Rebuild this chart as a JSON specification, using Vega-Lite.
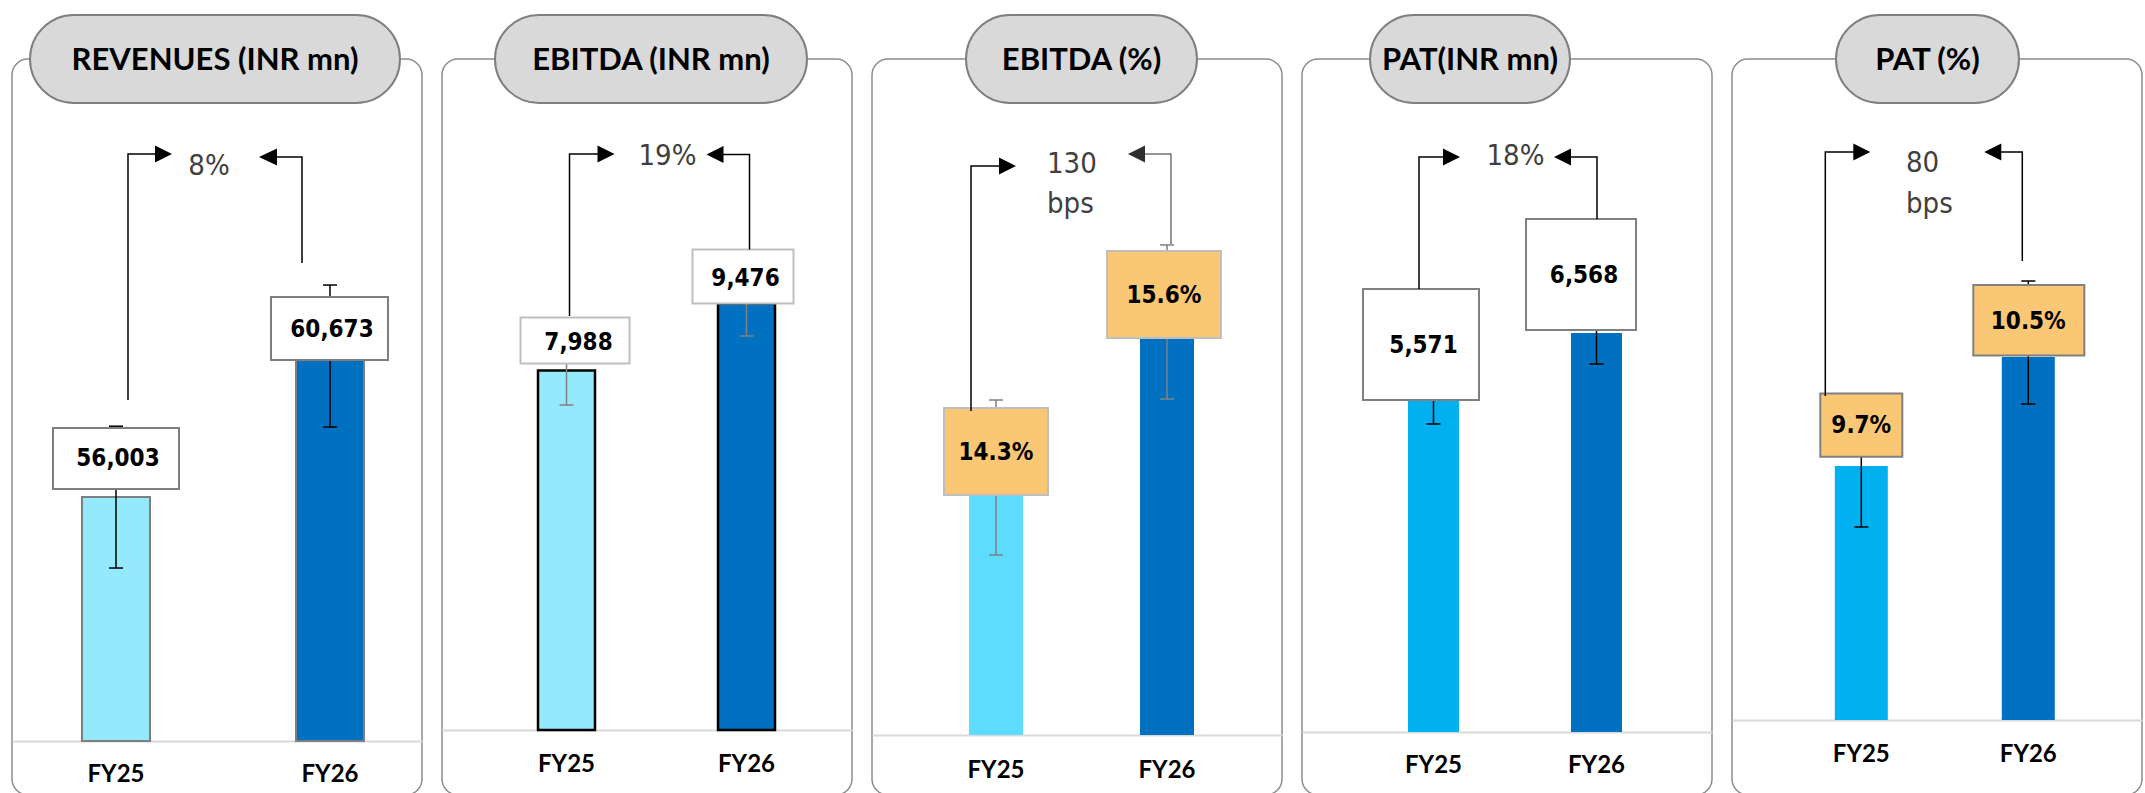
{
 "$schema": "https://vega.github.io/schema/vega-lite/v6.json",
 "padding": {"left": 11, "top": 10, "right": 0, "bottom": 0},
 "spacing": 18,
 "background": "#FFFFFF",
 "resolve": {"scale": {"color": "independent"}, "legend": {"color": "independent"}},
 "config": {
  "view": {"stroke": "#8C8C8C", "strokeWidth": 1.5, "cornerRadius": 16},
  "axisX": {"domainColor": "#D9D9D9", "domainWidth": 2, "ticks": false, "tickSize": 0, "labelFont": "Lato", "labelFontWeight": "bold", "labelFontSize": 24, "labelColor": "#000000", "labelBaseline": "middle", "labelAngle": 0, "grid": false}
 },
 "hconcat": [
  {
   "width": 410, "height": 736,
   "data": {"values": [
    {"year": "FY25", "value": 56003, "label": "56,003", "err_low": 53600, "err_high": 58400, "growth": "8%"},
    {"year": "FY26", "value": 60673, "label": "60,673", "err_low": 58372, "err_high": 63177, "growth": "8%"}
   ]},
   "encoding": {"y": {"field": "value", "type": "quantitative", "scale": {"domain": [45919, 70826], "nice": false, "zero": false}, "axis": null}},
   "layer": [
    {"mark": {"type": "bar", "width": 68, "stroke": "#7F7F7F", "strokeWidth": 2},
     "encoding": {
      "x": {"field": "year", "type": "nominal", "title": null, "scale": {"paddingInner": 0.5, "paddingOuter": 0.20794, "align": 0.5674}, "axis": {"offset": -54, "labelPadding": 33}},
      "y2": {"datum": 47746},
      "color": {"field": "year", "type": "nominal", "scale": {"range": ["#95E9FD", "#0070C0"]}, "legend": null}}},
    {"mark": {"type": "rule", "color": "#000000", "strokeWidth": 1.5},
     "encoding": {"x": {"field": "year", "type": "nominal", "title": null}, "y": {"field": "err_low", "type": "quantitative", "axis": null}, "y2": {"field": "err_high"}}},
    {"mark": {"type": "point", "shape": "M-1,0H1", "size": 196, "filled": false, "stroke": "#000000", "strokeWidth": 1.5, "opacity": 1},
     "encoding": {"x": {"field": "year", "type": "nominal", "title": null}, "y": {"field": "err_low", "type": "quantitative", "axis": null}}},
    {"mark": {"type": "point", "shape": "M-1,0H1", "size": 196, "filled": false, "stroke": "#000000", "strokeWidth": 1.5, "opacity": 1},
     "encoding": {"x": {"field": "year", "type": "nominal", "title": null}, "y": {"field": "err_high", "type": "quantitative", "axis": null}}},
    {"transform": [{"filter": "datum.year == 'FY25'"}],
     "mark": {"type": "point", "shape": "M-0.63,-0.69H0.63V-0.08H-0.63Z", "size": 40000, "filled": true, "fill": "#FFFFFF", "stroke": "#7F7F7F", "strokeWidth": 2, "opacity": 1},
     "encoding": {"x": {"field": "year", "type": "nominal", "title": null}}},
    {"transform": [{"filter": "datum.year == 'FY26'"}],
     "mark": {"type": "point", "shape": "M-0.59,-0.62H0.58V0.01H-0.59Z", "size": 40000, "filled": true, "fill": "#FFFFFF", "stroke": "#7F7F7F", "strokeWidth": 2, "opacity": 1},
     "encoding": {"x": {"field": "year", "type": "nominal", "title": null}}},
    {"transform": [{"filter": "datum.year == 'FY25'"}],
     "mark": {"type": "point", "shape": "M0.1125,-0.97L0.1125,-3.4375L0.39,-3.4375L0.39,-3.515L0.56,-3.43L0.39,-3.345L0.39,-3.4225L0.1275,-3.4225L0.1275,-0.97Z", "size": 40000, "filled": true, "fill": "#000000", "strokeWidth": 0, "opacity": 1},
     "encoding": {"x": {"field": "year", "type": "nominal", "title": null}}},
    {"transform": [{"filter": "datum.year == 'FY26'"}],
     "mark": {"type": "point", "shape": "M-0.2725,-0.96L-0.2725,-2.0275L-0.53,-2.0275L-0.53,-2.105L-0.71,-2.02L-0.53,-1.935L-0.53,-2.0125L-0.2875,-2.0125L-0.2875,-0.96Z", "size": 40000, "filled": true, "fill": "#000000", "strokeWidth": 0, "opacity": 1},
     "encoding": {"x": {"field": "year", "type": "nominal", "title": null}}},
    {"transform": [{"filter": "datum.year == 'FY25'"}],
     "mark": {"type": "text", "font": "DejaVu Sans Condensed, DejaVu Sans", "fontWeight": "bold", "fontSize": 24, "color": "#000000", "dx": 2, "dy": -38, "baseline": "middle"},
     "encoding": {"x": {"field": "year", "type": "nominal", "title": null}, "text": {"field": "label"}}},
    {"transform": [{"filter": "datum.year == 'FY26'"}],
     "mark": {"type": "text", "font": "DejaVu Sans Condensed, DejaVu Sans", "fontWeight": "bold", "fontSize": 24, "color": "#000000", "dx": 2, "dy": -29, "baseline": "middle"},
     "encoding": {"x": {"field": "year", "type": "nominal", "title": null}, "text": {"field": "label"}}},
    {"transform": [{"filter": "datum.year == 'FY26'"}],
     "mark": {"type": "text", "font": "DejaVu Sans Condensed, DejaVu Sans", "fontSize": 29, "color": "#404040", "dx": -8, "baseline": "middle", "align": "center"},
     "encoding": {"y": {"datum": 67205, "axis": null}, "text": {"field": "growth"}}},
    {"transform": [{"filter": "datum.year == 'FY25'"}],
     "mark": {"type": "point", "shape": "M-1.41,-0.44H1.41A0.44,0.44 0 0 1 1.41,0.44H-1.41A0.44,0.44 0 0 1 -1.41,-0.44Z", "size": 40000, "filled": true, "fill": "#D9D9D9", "stroke": "#7F7F7F", "strokeWidth": 2, "opacity": 1, "xOffset": -2},
     "encoding": {"y": {"datum": 70826, "axis": null}}},
    {"transform": [{"filter": "datum.year == 'FY25'"}],
     "mark": {"type": "text", "text": "REVENUES (INR mn)", "font": "Lato", "fontWeight": "bold", "fontSize": 31, "color": "#000000", "dx": -2, "dy": 2, "baseline": "middle", "align": "center"},
     "encoding": {"y": {"datum": 70826, "axis": null}}}
   ]
  },
  {
   "width": 410, "height": 736,
   "data": {"values": [
    {"year": "FY25", "value": 7988, "label": "7,988", "err_low": 7222, "err_high": 8733, "growth": "19%"},
    {"year": "FY26", "value": 9476, "label": "9,476", "err_low": 8756, "err_high": 10222, "growth": "19%"}
   ]},
   "encoding": {"y": {"field": "value", "type": "quantitative", "scale": {"domain": [-1444, 14911], "nice": false, "zero": false}, "axis": null}},
   "layer": [
    {"mark": {"type": "bar", "width": 57, "stroke": "#000000", "strokeWidth": 2.5},
     "encoding": {
      "x": {"field": "year", "type": "nominal", "title": null, "scale": {"paddingInner": 0.5, "paddingOuter": 0.38889, "align": 0.5679}, "axis": {"offset": -65, "labelPadding": 34}},
      "y2": {"datum": 0},
      "color": {"field": "year", "type": "nominal", "scale": {"range": ["#95E9FD", "#0070C0"]}, "legend": null}}},
    {"mark": {"type": "rule", "color": "#808080", "strokeWidth": 1.5},
     "encoding": {"x": {"field": "year", "type": "nominal", "title": null}, "y": {"field": "err_low", "type": "quantitative", "axis": null}, "y2": {"field": "err_high"}}},
    {"mark": {"type": "point", "shape": "M-1,0H1", "size": 196, "filled": false, "stroke": "#808080", "strokeWidth": 1.5, "opacity": 1},
     "encoding": {"x": {"field": "year", "type": "nominal", "title": null}, "y": {"field": "err_low", "type": "quantitative", "axis": null}}},
    {"mark": {"type": "point", "shape": "M-1,0H1", "size": 196, "filled": false, "stroke": "#808080", "strokeWidth": 1.5, "opacity": 1},
     "encoding": {"x": {"field": "year", "type": "nominal", "title": null}, "y": {"field": "err_high", "type": "quantitative", "axis": null}}},
    {"transform": [{"filter": "datum.year == 'FY25'"}],
     "mark": {"type": "point", "shape": "M-0.46,-0.53H0.63V-0.07H-0.46Z", "size": 40000, "filled": true, "fill": "#FFFFFF", "stroke": "#BFBFBF", "strokeWidth": 2, "opacity": 1},
     "encoding": {"x": {"field": "year", "type": "nominal", "title": null}}},
    {"transform": [{"filter": "datum.year == 'FY26'"}],
     "mark": {"type": "point", "shape": "M-0.54,-0.54H0.47V0H-0.54Z", "size": 40000, "filled": true, "fill": "#FFFFFF", "stroke": "#BFBFBF", "strokeWidth": 2, "opacity": 1},
     "encoding": {"x": {"field": "year", "type": "nominal", "title": null}}},
    {"transform": [{"filter": "datum.year == 'FY25'"}],
     "mark": {"type": "point", "shape": "M0.0225,-0.545L0.0225,-2.1725L0.31,-2.1725L0.31,-2.25L0.48,-2.165L0.31,-2.08L0.31,-2.1575L0.0375,-2.1575L0.0375,-0.545Z", "size": 40000, "filled": true, "fill": "#000000", "strokeWidth": 0, "opacity": 1},
     "encoding": {"x": {"field": "year", "type": "nominal", "title": null}}},
    {"transform": [{"filter": "datum.year == 'FY26'"}],
     "mark": {"type": "point", "shape": "M0.0375,-0.54L0.0375,-1.4975L-0.23,-1.4975L-0.23,-1.575L-0.40,-1.49L-0.23,-1.405L-0.23,-1.4825L0.0225,-1.4825L0.0225,-0.54Z", "size": 40000, "filled": true, "fill": "#000000", "strokeWidth": 0, "opacity": 1},
     "encoding": {"x": {"field": "year", "type": "nominal", "title": null}}},
    {"transform": [{"filter": "datum.year == 'FY25'"}],
     "mark": {"type": "text", "font": "DejaVu Sans Condensed, DejaVu Sans", "fontWeight": "bold", "fontSize": 24, "color": "#000000", "dx": 12, "dy": -27.5, "baseline": "middle"},
     "encoding": {"x": {"field": "year", "type": "nominal", "title": null}, "text": {"field": "label"}}},
    {"transform": [{"filter": "datum.year == 'FY26'"}],
     "mark": {"type": "text", "font": "DejaVu Sans Condensed, DejaVu Sans", "fontWeight": "bold", "fontSize": 24, "color": "#000000", "dx": -1, "dy": -25, "baseline": "middle"},
     "encoding": {"x": {"field": "year", "type": "nominal", "title": null}, "text": {"field": "label"}}},
    {"transform": [{"filter": "datum.year == 'FY26'"}],
     "mark": {"type": "text", "font": "DejaVu Sans Condensed, DejaVu Sans", "fontSize": 29, "color": "#404040", "dx": 20.5, "baseline": "middle", "align": "center"},
     "encoding": {"y": {"datum": 12756, "axis": null}, "text": {"field": "growth"}}},
    {"transform": [{"filter": "datum.year == 'FY25'"}],
     "mark": {"type": "point", "shape": "M-1.12,-0.44H1.12A0.44,0.44 0 0 1 1.12,0.44H-1.12A0.44,0.44 0 0 1 -1.12,-0.44Z", "size": 40000, "filled": true, "fill": "#D9D9D9", "stroke": "#7F7F7F", "strokeWidth": 2, "opacity": 1, "xOffset": 4},
     "encoding": {"y": {"datum": 14911, "axis": null}}},
    {"transform": [{"filter": "datum.year == 'FY25'"}],
     "mark": {"type": "text", "text": "EBITDA (INR mn)", "font": "Lato", "fontWeight": "bold", "fontSize": 31, "color": "#000000", "dx": 4, "dy": 2, "baseline": "middle", "align": "center"},
     "encoding": {"y": {"datum": 14911, "axis": null}}}
   ]
  },
  {
   "width": 410, "height": 736,
   "data": {"values": [
    {"year": "FY25", "value": 14.3, "label": "14.3%", "err_low": 13.658, "err_high": 14.95, "growth": "130 bps"},
    {"year": "FY26", "value": 15.6, "label": "15.6%", "err_low": 14.958, "err_high": 16.242, "growth": "130 bps"}
   ]},
   "encoding": {"y": {"field": "value", "type": "quantitative", "scale": {"domain": [11.6583, 17.7917], "nice": false, "zero": false}, "axis": null}},
   "layer": [
    {"mark": {"type": "bar", "width": 54},
     "encoding": {
      "x": {"field": "year", "type": "nominal", "title": null, "scale": {"paddingInner": 0.5, "paddingOuter": 0.44883, "align": 0.5293}, "axis": {"offset": -60, "labelPadding": 35}},
      "y2": {"datum": 12.1583},
      "color": {"field": "year", "type": "nominal", "scale": {"range": ["#5DDCFF", "#0070C0"]}, "legend": null}}},
    {"mark": {"type": "rule", "color": "#808080", "strokeWidth": 1.5},
     "encoding": {"x": {"field": "year", "type": "nominal", "title": null}, "y": {"field": "err_low", "type": "quantitative", "axis": null}, "y2": {"field": "err_high"}}},
    {"mark": {"type": "point", "shape": "M-1,0H1", "size": 196, "filled": false, "stroke": "#808080", "strokeWidth": 1.5, "opacity": 1},
     "encoding": {"x": {"field": "year", "type": "nominal", "title": null}, "y": {"field": "err_low", "type": "quantitative", "axis": null}}},
    {"mark": {"type": "point", "shape": "M-1,0H1", "size": 196, "filled": false, "stroke": "#808080", "strokeWidth": 1.5, "opacity": 1},
     "encoding": {"x": {"field": "year", "type": "nominal", "title": null}, "y": {"field": "err_high", "type": "quantitative", "axis": null}}},
    {"transform": [{"filter": "datum.year == 'FY25'"}],
     "mark": {"type": "point", "shape": "M-0.52,-0.70H0.52V0.17H-0.52Z", "size": 40000, "filled": true, "fill": "#FAC775", "stroke": "#BFBFBF", "strokeWidth": 2, "opacity": 1},
     "encoding": {"x": {"field": "year", "type": "nominal", "title": null}}},
    {"transform": [{"filter": "datum.year == 'FY26'"}],
     "mark": {"type": "point", "shape": "M-0.60,-0.71H0.54V0.16H-0.60Z", "size": 40000, "filled": true, "fill": "#FAC775", "stroke": "#BFBFBF", "strokeWidth": 2, "opacity": 1},
     "encoding": {"x": {"field": "year", "type": "nominal", "title": null}}},
    {"transform": [{"filter": "datum.year == 'FY25'"}],
     "mark": {"type": "point", "shape": "M-0.2575,-0.67L-0.2575,-3.1275L0.03,-3.1275L0.03,-3.205L0.20,-3.12L0.03,-3.035L0.03,-3.1125L-0.2425,-3.1125L-0.2425,-0.67Z", "size": 40000, "filled": true, "fill": "#000000", "strokeWidth": 0, "opacity": 1},
     "encoding": {"x": {"field": "year", "type": "nominal", "title": null}}},
    {"transform": [{"filter": "datum.year == 'FY26'"}],
     "mark": {"type": "point", "shape": "M0.045,-0.78L0.045,-1.685L-0.22,-1.685L-0.22,-1.765L-0.39,-1.68L-0.22,-1.595L-0.22,-1.675L0.035,-1.675L0.035,-0.78Z", "size": 40000, "filled": true, "fill": "#2E2E2E", "strokeWidth": 0, "opacity": 1},
     "encoding": {"x": {"field": "year", "type": "nominal", "title": null}}},
    {"transform": [{"filter": "datum.year == 'FY25'"}],
     "mark": {"type": "text", "font": "DejaVu Sans Condensed, DejaVu Sans", "fontWeight": "bold", "fontSize": 24, "color": "#000000", "dx": 0, "dy": -25, "baseline": "middle"},
     "encoding": {"x": {"field": "year", "type": "nominal", "title": null}, "text": {"field": "label"}}},
    {"transform": [{"filter": "datum.year == 'FY26'"}],
     "mark": {"type": "text", "font": "DejaVu Sans Condensed, DejaVu Sans", "fontWeight": "bold", "fontSize": 24, "color": "#000000", "dx": -3, "dy": -26, "baseline": "middle"},
     "encoding": {"x": {"field": "year", "type": "nominal", "title": null}, "text": {"field": "label"}}},
    {"transform": [{"filter": "datum.year == 'FY26'"}],
     "mark": {"type": "text", "font": "DejaVu Sans Condensed, DejaVu Sans", "fontSize": 29, "color": "#404040", "dx": -30, "baseline": "middle", "align": "left", "lineBreak": " ", "lineHeight": 40},
     "encoding": {"y": {"datum": 16.9167, "axis": null}, "text": {"field": "growth"}}},
    {"transform": [{"filter": "datum.year == 'FY25'"}],
     "mark": {"type": "point", "shape": "M-0.715,-0.44H0.715A0.44,0.44 0 0 1 0.715,0.44H-0.715A0.44,0.44 0 0 1 -0.715,-0.44Z", "size": 40000, "filled": true, "fill": "#D9D9D9", "stroke": "#7F7F7F", "strokeWidth": 2, "opacity": 1, "xOffset": 4.5},
     "encoding": {"y": {"datum": 17.7917, "axis": null}}},
    {"transform": [{"filter": "datum.year == 'FY25'"}],
     "mark": {"type": "text", "text": "EBITDA (%)", "font": "Lato", "fontWeight": "bold", "fontSize": 31, "color": "#000000", "dx": 4.5, "dy": 2, "baseline": "middle", "align": "center"},
     "encoding": {"y": {"datum": 17.7917, "axis": null}}}
   ]
  },
  {
   "width": 410, "height": 736,
   "data": {"values": [
    {"year": "FY25", "value": 5571, "label": "5,571", "err_low": 5234, "err_high": 5908, "growth": "18%"},
    {"year": "FY26", "value": 6568, "label": "6,568", "err_low": 6113, "err_high": 7052, "growth": "18%"}
   ]},
   "encoding": {"y": {"field": "value", "type": "quantitative", "scale": {"domain": [-206, 10585], "nice": false, "zero": false}, "axis": null}},
   "layer": [
    {"mark": {"type": "bar", "width": 51},
     "encoding": {
      "x": {"field": "year", "type": "nominal", "title": null, "scale": {"paddingInner": 0.5, "paddingOuter": 0.50767, "align": 0.5483}, "axis": {"offset": -63, "labelPadding": 33}},
      "y2": {"datum": 718},
      "color": {"field": "year", "type": "nominal", "scale": {"range": ["#00B0F0", "#0070C0"]}, "legend": null}}},
    {"mark": {"type": "rule", "color": "#000000", "strokeWidth": 1.5},
     "encoding": {"x": {"field": "year", "type": "nominal", "title": null}, "y": {"field": "err_low", "type": "quantitative", "axis": null}, "y2": {"field": "err_high"}}},
    {"mark": {"type": "point", "shape": "M-1,0H1", "size": 196, "filled": false, "stroke": "#000000", "strokeWidth": 1.5, "opacity": 1},
     "encoding": {"x": {"field": "year", "type": "nominal", "title": null}, "y": {"field": "err_low", "type": "quantitative", "axis": null}}},
    {"mark": {"type": "point", "shape": "M-1,0H1", "size": 196, "filled": false, "stroke": "#000000", "strokeWidth": 1.5, "opacity": 1},
     "encoding": {"x": {"field": "year", "type": "nominal", "title": null}, "y": {"field": "err_high", "type": "quantitative", "axis": null}}},
    {"transform": [{"filter": "datum.year == 'FY25'"}],
     "mark": {"type": "point", "shape": "M-0.705,-1.12H0.455V-0.01H-0.705Z", "size": 40000, "filled": true, "fill": "#FFFFFF", "stroke": "#808080", "strokeWidth": 2, "opacity": 1},
     "encoding": {"x": {"field": "year", "type": "nominal", "title": null}}},
    {"transform": [{"filter": "datum.year == 'FY26'"}],
     "mark": {"type": "point", "shape": "M-0.705,-1.14H0.395V-0.03H-0.705Z", "size": 40000, "filled": true, "fill": "#FFFFFF", "stroke": "#808080", "strokeWidth": 2, "opacity": 1},
     "encoding": {"x": {"field": "year", "type": "nominal", "title": null}}},
    {"transform": [{"filter": "datum.year == 'FY25'"}],
     "mark": {"type": "point", "shape": "M-0.1525,-1.12L-0.1525,-2.4475L0.095,-2.4475L0.095,-2.525L0.265,-2.44L0.095,-2.355L0.095,-2.4325L-0.1375,-2.4325L-0.1375,-1.12Z", "size": 40000, "filled": true, "fill": "#000000", "strokeWidth": 0, "opacity": 1},
     "encoding": {"x": {"field": "year", "type": "nominal", "title": null}}},
    {"transform": [{"filter": "datum.year == 'FY26'"}],
     "mark": {"type": "point", "shape": "M0.0125,-1.14L0.0125,-1.7675L-0.255,-1.7675L-0.255,-1.845L-0.425,-1.76L-0.255,-1.675L-0.255,-1.7525L-0.0025,-1.7525L-0.0025,-1.14Z", "size": 40000, "filled": true, "fill": "#000000", "strokeWidth": 0, "opacity": 1},
     "encoding": {"x": {"field": "year", "type": "nominal", "title": null}}},
    {"transform": [{"filter": "datum.year == 'FY25'"}],
     "mark": {"type": "text", "font": "DejaVu Sans Condensed, DejaVu Sans", "fontWeight": "bold", "fontSize": 24, "color": "#000000", "dx": -10, "dy": -55, "baseline": "middle"},
     "encoding": {"x": {"field": "year", "type": "nominal", "title": null}, "text": {"field": "label"}}},
    {"transform": [{"filter": "datum.year == 'FY26'"}],
     "mark": {"type": "text", "font": "DejaVu Sans Condensed, DejaVu Sans", "fontWeight": "bold", "fontSize": 24, "color": "#000000", "dx": -12.5, "dy": -56.6, "baseline": "middle"},
     "encoding": {"x": {"field": "year", "type": "nominal", "title": null}, "text": {"field": "label"}}},
    {"transform": [{"filter": "datum.year == 'FY26'"}],
     "mark": {"type": "text", "font": "DejaVu Sans Condensed, DejaVu Sans", "fontSize": 29, "color": "#404040", "dx": 8.5, "baseline": "middle", "align": "center"},
     "encoding": {"y": {"datum": 9163, "axis": null}, "text": {"field": "growth"}}},
    {"transform": [{"filter": "datum.year == 'FY25'"}],
     "mark": {"type": "point", "shape": "M-0.56,-0.44H0.56A0.44,0.44 0 0 1 0.56,0.44H-0.56A0.44,0.44 0 0 1 -0.56,-0.44Z", "size": 40000, "filled": true, "fill": "#D9D9D9", "stroke": "#7F7F7F", "strokeWidth": 2, "opacity": 1, "xOffset": -37},
     "encoding": {"y": {"datum": 10585, "axis": null}}},
    {"transform": [{"filter": "datum.year == 'FY25'"}],
     "mark": {"type": "text", "text": "PAT(INR mn)", "font": "Lato", "fontWeight": "bold", "fontSize": 31, "color": "#000000", "dx": -37, "dy": 2, "baseline": "middle", "align": "center"},
     "encoding": {"y": {"datum": 10585, "axis": null}}}
   ]
  },
  {
   "width": 410, "height": 736,
   "data": {"values": [
    {"year": "FY25", "value": 9.7, "label": "9.7%", "err_low": 9.2523, "err_high": 10.1477, "growth": "80 bps"},
    {"year": "FY26", "value": 10.5, "label": "10.5%", "err_low": 10.1551, "err_high": 11.0578, "growth": "80 bps"}
   ]},
   "encoding": {"y": {"field": "value", "type": "quantitative", "scale": {"domain": [7.2853, 12.6872], "nice": false, "zero": false}, "axis": null}},
   "layer": [
    {"mark": {"type": "bar", "width": 53},
     "encoding": {
      "x": {"field": "year", "type": "nominal", "title": null, "scale": {"paddingInner": 0.5, "paddingOuter": 0.47754, "align": 0.5489}, "axis": {"offset": -75, "labelPadding": 34}},
      "y2": {"datum": 7.8358},
      "color": {"field": "year", "type": "nominal", "scale": {"range": ["#00B0F0", "#0070C0"]}, "legend": null}}},
    {"mark": {"type": "rule", "color": "#000000", "strokeWidth": 1.5},
     "encoding": {"x": {"field": "year", "type": "nominal", "title": null}, "y": {"field": "err_low", "type": "quantitative", "axis": null}, "y2": {"field": "err_high"}}},
    {"mark": {"type": "point", "shape": "M-1,0H1", "size": 196, "filled": false, "stroke": "#000000", "strokeWidth": 1.5, "opacity": 1},
     "encoding": {"x": {"field": "year", "type": "nominal", "title": null}, "y": {"field": "err_low", "type": "quantitative", "axis": null}}},
    {"mark": {"type": "point", "shape": "M-1,0H1", "size": 196, "filled": false, "stroke": "#000000", "strokeWidth": 1.5, "opacity": 1},
     "encoding": {"x": {"field": "year", "type": "nominal", "title": null}, "y": {"field": "err_high", "type": "quantitative", "axis": null}}},
    {"transform": [{"filter": "datum.year == 'FY25'"}],
     "mark": {"type": "point", "shape": "M-0.41,-0.725H0.41V-0.093H-0.41Z", "size": 40000, "filled": true, "fill": "#FAC775", "stroke": "#808080", "strokeWidth": 2, "opacity": 1},
     "encoding": {"x": {"field": "year", "type": "nominal", "title": null}}},
    {"transform": [{"filter": "datum.year == 'FY26'"}],
     "mark": {"type": "point", "shape": "M-0.55,-0.72H0.56V-0.015H-0.55Z", "size": 40000, "filled": true, "fill": "#FAC775", "stroke": "#808080", "strokeWidth": 2, "opacity": 1},
     "encoding": {"x": {"field": "year", "type": "nominal", "title": null}}},
    {"transform": [{"filter": "datum.year == 'FY25'"}],
     "mark": {"type": "point", "shape": "M-0.3675,-0.70L-0.3675,-3.1475L-0.08,-3.1475L-0.08,-3.225L0.09,-3.14L-0.08,-3.055L-0.08,-3.1325L-0.3525,-3.1325L-0.3525,-0.70Z", "size": 40000, "filled": true, "fill": "#000000", "strokeWidth": 0, "opacity": 1},
     "encoding": {"x": {"field": "year", "type": "nominal", "title": null}}},
    {"transform": [{"filter": "datum.year == 'FY26'"}],
     "mark": {"type": "point", "shape": "M-0.0525,-0.96L-0.0525,-2.0575L-0.27,-2.0575L-0.27,-2.135L-0.44,-2.05L-0.27,-1.965L-0.27,-2.0425L-0.0675,-2.0425L-0.0675,-0.96Z", "size": 40000, "filled": true, "fill": "#000000", "strokeWidth": 0, "opacity": 1},
     "encoding": {"x": {"field": "year", "type": "nominal", "title": null}}},
    {"transform": [{"filter": "datum.year == 'FY25'"}],
     "mark": {"type": "text", "font": "DejaVu Sans Condensed, DejaVu Sans", "fontWeight": "bold", "fontSize": 24, "color": "#000000", "dx": 0, "dy": -40, "baseline": "middle"},
     "encoding": {"x": {"field": "year", "type": "nominal", "title": null}, "text": {"field": "label"}}},
    {"transform": [{"filter": "datum.year == 'FY26'"}],
     "mark": {"type": "text", "font": "DejaVu Sans Condensed, DejaVu Sans", "fontWeight": "bold", "fontSize": 24, "color": "#000000", "dx": 0, "dy": -35.4, "baseline": "middle"},
     "encoding": {"x": {"field": "year", "type": "nominal", "title": null}, "text": {"field": "label"}}},
    {"transform": [{"filter": "datum.year == 'FY26'"}],
     "mark": {"type": "text", "font": "DejaVu Sans Condensed, DejaVu Sans", "fontSize": 29, "color": "#404040", "dx": -31, "baseline": "middle", "align": "left", "lineBreak": " ", "lineHeight": 41},
     "encoding": {"y": {"datum": 11.924, "axis": null}, "text": {"field": "growth"}}},
    {"transform": [{"filter": "datum.year == 'FY25'"}],
     "mark": {"type": "point", "shape": "M-0.475,-0.44H0.475A0.44,0.44 0 0 1 0.475,0.44H-0.475A0.44,0.44 0 0 1 -0.475,-0.44Z", "size": 40000, "filled": true, "fill": "#D9D9D9", "stroke": "#7F7F7F", "strokeWidth": 2, "opacity": 1, "xOffset": -9.5},
     "encoding": {"y": {"datum": 12.6872, "axis": null}}},
    {"transform": [{"filter": "datum.year == 'FY25'"}],
     "mark": {"type": "text", "text": "PAT (%)", "font": "Lato", "fontWeight": "bold", "fontSize": 31, "color": "#000000", "dx": -9.5, "dy": 2, "baseline": "middle", "align": "center"},
     "encoding": {"y": {"datum": 12.6872, "axis": null}}}
   ]
  }
 ]
}
